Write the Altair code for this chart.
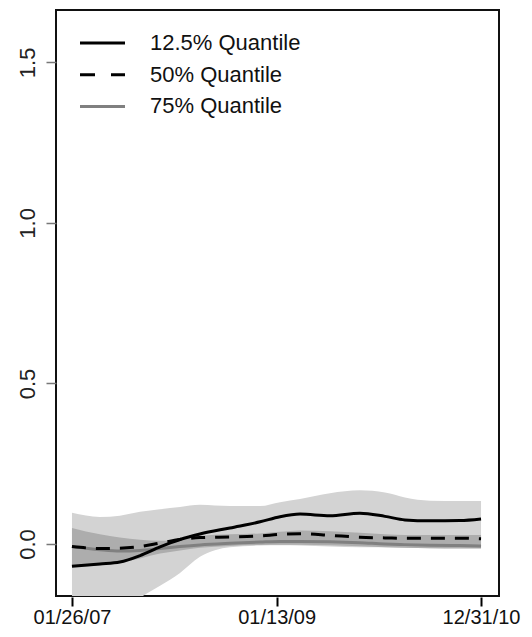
import altair as alt
import pandas as pd

# ---- data ----
dates = ["2007-01-26", "2007-05-04", "2007-07-13", "2007-09-22", "2007-12-01",
         "2008-02-09", "2008-04-19", "2008-08-02", "2008-11-16", "2009-01-25",
         "2009-04-05", "2009-07-19", "2009-11-01", "2010-01-28", "2010-04-08",
         "2010-07-05", "2010-10-18", "2010-12-31"]

q125 = [-0.069, -0.062, -0.056, -0.036, -0.009, 0.014, 0.031, 0.050, 0.069, 0.085,
        0.093, 0.088, 0.096, 0.086, 0.075, 0.072, 0.073, 0.078]
q50 = [-0.008, -0.014, -0.013, -0.008, 0.003, 0.014, 0.020, 0.022, 0.025, 0.030,
       0.032, 0.027, 0.021, 0.019, 0.018, 0.018, 0.018, 0.016]
q75 = [-0.008, -0.018, -0.022, -0.020, -0.014, -0.008, -0.003, 0.002, 0.006, 0.008,
       0.008, 0.007, 0.004, 0.000, -0.002, -0.004, -0.005, -0.006]

outer_hi = [0.097, 0.084, 0.088, 0.100, 0.108, 0.115, 0.122, 0.118, 0.118, 0.130,
            0.140, 0.158, 0.167, 0.160, 0.145, 0.135, 0.134, 0.134]
outer_lo = [-0.350, -0.280, -0.220, -0.168, -0.130, -0.090, -0.040, -0.010, -0.005, -0.004,
            -0.005, -0.008, -0.010, -0.010, -0.012, -0.013, -0.013, -0.013]
inner_hi = [0.050, 0.030, 0.020, 0.013, 0.010, 0.015, 0.025, 0.030, 0.033, 0.038,
            0.042, 0.040, 0.035, 0.030, 0.028, 0.028, 0.028, 0.028]
inner_lo = [-0.072, -0.066, -0.058, -0.045, -0.030, -0.020, -0.012, -0.006, -0.003, -0.002,
            -0.002, -0.004, -0.007, -0.010, -0.012, -0.013, -0.014, -0.014]

tick_dates = ["2007-01-26", "2009-01-13", "2010-12-31"]
tick_labels = ["01/26/07", "01/13/09", "12/31/10"]
y_ticks = [0.0, 0.5, 1.0, 1.5]

legend_labels = ["12.5% Quantile", "50% Quantile", "75% Quantile"]
legend_colors = ["#000000", "#000000", "#808080"]

# ---- build table ----
start = pd.Timestamp(dates[0])
days = [(pd.Timestamp(d) - start).days for d in dates]
tick_days = [(pd.Timestamp(d) - start).days for d in tick_dates]

df = pd.DataFrame({
    "day": days, "q125": q125, "q50": q50, "q75": q75,
    "ohi": outer_hi, "olo": outer_lo, "ihi": inner_hi, "ilo": inner_lo,
})

expr = "''"
for v, lab in reversed(list(zip(tick_days, tick_labels))):
    expr = f"datum.value == {v} ? '{lab}' : ({expr})"

FONT = "Liberation Sans"

xscale = alt.Scale(domain=[-56, 1498], nice=False, zero=False)
yscale = alt.Scale(domain=[-0.162, 1.663], nice=False, zero=False)

x = alt.X("day:Q", scale=xscale, title=None,
          axis=alt.Axis(values=tick_days, labelExpr=expr, grid=False, domain=False,
                        tickSize=9, tickWidth=2, tickColor="#000", offset=1,
                        labelFontSize=20, labelFont=FONT, labelColor="#111",
                        labelPadding=1, labelFlush=False, labelOverlap=False))
yax = alt.Axis(values=y_ticks, format=".1f", grid=False, domain=False,
               tickSize=10, tickWidth=1.5, tickColor="#777",
               labelAngle=270, labelAlign="center", labelBaseline="bottom",
               labelFontSize=22, labelFont=FONT, labelColor="#222", labelPadding=7)

base = alt.Chart(df)

outer = base.mark_area(color="#d3d3d3", clip=True, interpolate="monotone").encode(
    x=x, y=alt.Y("ohi:Q", scale=yscale, axis=yax, title=None), y2="olo:Q")
inner = base.mark_area(color="#adadad", clip=True, interpolate="monotone").encode(
    x=x, y=alt.Y("ihi:Q", scale=yscale), y2="ilo:Q")

l75 = base.mark_line(color=legend_colors[2], strokeWidth=3, interpolate="monotone").encode(
    x=x, y=alt.Y("q75:Q", scale=yscale))
l50 = base.mark_line(color=legend_colors[1], strokeWidth=3, strokeDash=[14, 10],
                     interpolate="monotone").encode(x=x, y=alt.Y("q50:Q", scale=yscale))
l125 = base.mark_line(color=legend_colors[0], strokeWidth=3, interpolate="monotone").encode(
    x=x, y=alt.Y("q125:Q", scale=yscale))

layers = [outer, inner, l75, l50, l125]

leg_df = pd.DataFrame({"label": legend_labels})
dashes = [None, [15, 16], None]
for i, (lab, col) in enumerate(zip(legend_labels, legend_colors)):
    yy = 33 + 31.7 * i
    kw = dict(color=col, strokeWidth=3)
    if dashes[i] is not None:
        kw["strokeDash"] = dashes[i]
    rule = alt.Chart(leg_df.iloc[[i]]).mark_rule(**kw).encode(
        x=alt.value(24), x2=alt.value(69), y=alt.value(yy))
    txt = alt.Chart(leg_df.iloc[[i]]).mark_text(
        align="left", baseline="middle", font=FONT, fontSize=22, color="#111").encode(
        x=alt.value(94), y=alt.value(yy), text="label:N")
    layers += [rule, txt]

chart = alt.layer(*layers).properties(
    width=443, height=586,
    autosize=alt.AutoSizeParams(type="none"),
    padding={"left": 48, "top": 2, "right": 25, "bottom": 33},
    background="white",
).configure_view(stroke="#111", strokeWidth=2)

chart.save("out.html", embed_options={"renderer": "svg", "actions": False})
